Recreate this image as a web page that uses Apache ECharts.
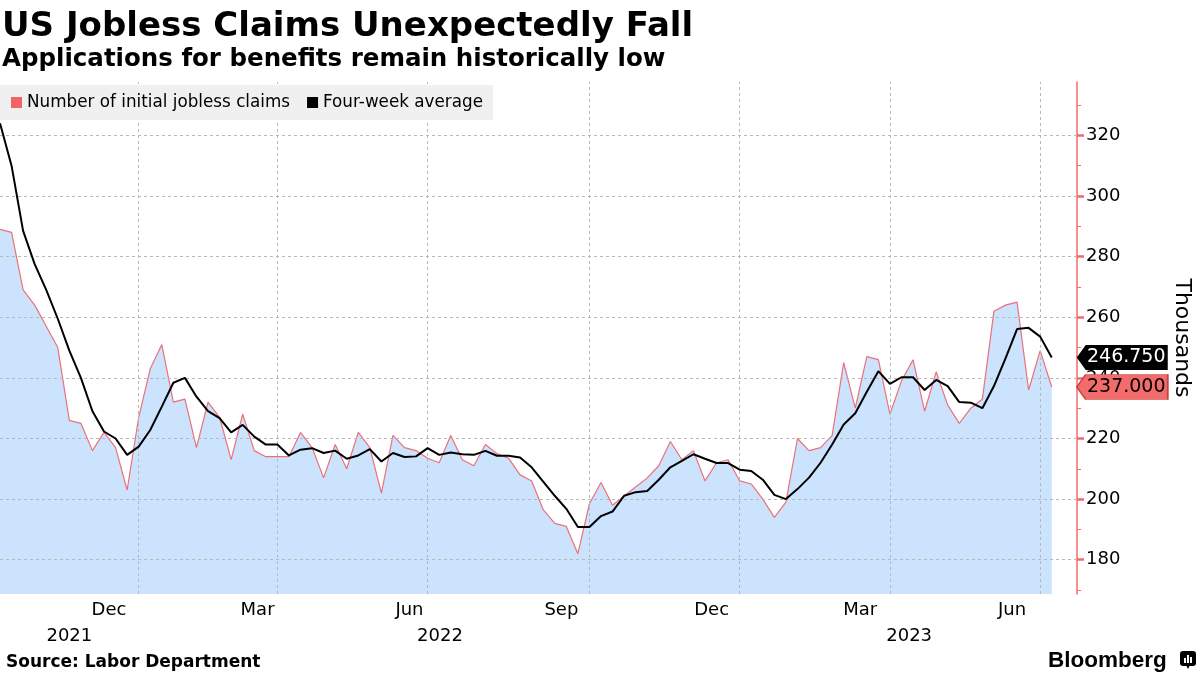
<!DOCTYPE html>
<html>
<head>
<meta charset="utf-8">
<script src="https://cdn.jsdelivr.net/npm/echarts@6/dist/echarts.min.js"></script>
<style>html,body{margin:0;padding:0;background:#fff}#c{width:1200px;height:675px}</style>
</head>
<body>
<div id="c"></div>
<script>
// ---- data (thousands), weekly, week ending Saturdays ----
const firstWeek = [2021, 10, 9]; // week ending Oct 9, 2021
const claims = [
  289, 288, 269, 264, 257, 250, 226, 225, 216, 222,
  217, 203, 227, 243, 251, 232, 233, 217, 232, 227,
  213, 228, 216, 214, 214, 214, 222, 217, 207, 218,
  210, 222, 217, 202, 221, 217, 216, 213.5, 212, 221,
  213, 211, 218, 215, 213.5, 208, 206, 196.5, 192, 191,
  182, 198.5, 205.5, 198, 201, 204, 207, 211, 219, 213,
  216, 206, 212, 213, 206, 205, 200, 194, 199, 220,
  216, 217, 221, 245, 230, 247, 246, 228, 239, 246,
  229, 242, 231, 225, 230, 233, 262, 264, 265, 236,
  249, 237
];
const fourWeekAvg = [
  324, 310, 288.5, 277.5, 269, 259.5, 249, 240, 229, 222.3,
  220, 214.6, 217.3, 222.8, 230.5, 238.4, 240, 233.8, 229, 226.7,
  222, 224.5, 220.6, 218, 218, 214.4, 216.3, 216.8, 215.2, 216,
  213.3, 214.4, 216.5, 212.4, 215.2, 213.9, 214.1, 216.8, 214.6, 215.4,
  214.8, 214.6, 215.9, 214.3, 214.3, 213.7, 210.5, 205.8, 201.1, 196.8,
  190.8, 190.8, 194.4, 195.9, 201.1, 202.3, 202.7, 206.4, 210.5, 212.6,
  214.8, 213.3, 211.9, 211.9, 209.7, 209.3, 206.4, 201.4, 200, 203.3,
  207.1, 212, 218, 224.6, 228.3, 235.4, 242.2, 238, 240.2, 240.2,
  236, 239.3, 237.3, 232, 231.8, 230, 237.3, 246.4, 256.1, 256.5,
  253.6, 246.75
];
const seriesNames = ['Number of initial jobless claims', 'Four-week average'];
const monthTickDates = [[2021,12,14],[2022,3,14],[2022,6,14],[2022,9,14],[2022,12,14],[2023,3,14],[2023,6,14]];
const quarterStarts = [[2022,1,1],[2022,4,1],[2022,7,1],[2022,10,1],[2023,1,1],[2023,4,1],[2023,7,1]];
const yLabelValues = [180, 200, 220, 240, 260, 280, 300, 320];
const yMinorValues = [170, 190, 210, 230, 250, 270, 290, 310, 330];
const yRange = [168.7, 337.6];
const monthNames = ['Jan','Feb','Mar','Apr','May','Jun','Jul','Aug','Sep','Oct','Nov','Dec'];

// ---- derived ----
const DAY = 86400000;
const ts = a => Date.UTC(a[0], a[1] - 1, a[2]);
const t0 = ts(firstWeek);
const weeks = claims.map((_, i) => t0 + i * 7 * DAY);
const lastT = weeks[weeks.length - 1];
const xMin = t0;
const xMax = lastT + 15.3 * DAY;
const claimsData = claims.map((v, i) => [weeks[i], v]);
const avgData = fourWeekAvg.map((v, i) => [weeks[i], v]);
const monthTicks = monthTickDates.map(ts);
// vertical grid lines: last reported week on or before each quarter start
const vGrid = quarterStarts.map(q => {
  const qt = ts(q); let best = weeks[0];
  weeks.forEach(w => { if (w <= qt) best = w; });
  return best;
});
// year labels centred on the visible part of each year
const yearTicks = [];
for (let y = new Date(xMin).getUTCFullYear(); y <= new Date(xMax).getUTCFullYear(); y++) {
  const s = Math.max(xMin, Date.UTC(y, 0, 1));
  const e = Math.min(xMax, Date.UTC(y + 1, 0, 1));
  yearTicks.push((s + e) / 2);
}
const FONT = '"DejaVu Sans", sans-serif';
const gridLineStyle = { color: '#b8b8b8', type: [3, 3], width: 1 };

function endBadge(value, bg, fg, border) {
  return {
    silent: true,
    animation: false,
    symbol: 'path://M0,12.5 L9,0 L91,0 L91,25 L9,25 Z',
    symbolSize: [91, 25],
    symbolKeepAspect: false,
    symbolOffset: [70.5, 0],
    itemStyle: { color: bg, borderColor: border, borderWidth: border ? 1 : 0 },
    label: {
      show: true, position: 'inside', offset: [4, 0],
      color: fg, fontSize: 19, fontFamily: FONT,
      formatter: p => Number(p.value).toFixed(3)
    },
    data: [{ coord: [lastT, value], value: value }]
  };
}

const chart = echarts.init(document.getElementById('c'));
chart.setOption({
  animation: false,
  backgroundColor: '#fff',
  grid: { left: 0, right: 123, top: 82, bottom: 81, containLabel: false },
  legend: {
    data: seriesNames,
    left: 0, top: 85,
    padding: [9, 10, 9, 11],
    itemGap: 17, itemWidth: 11, itemHeight: 11, icon: 'rect',
    backgroundColor: '#f0f0f0',
    selectedMode: false,
    textStyle: { fontSize: 16.8, fontFamily: FONT, color: '#000' }
  },
  xAxis: [{
    type: 'value', min: xMin, max: xMax, scale: true,
    axisLine: { show: false }, axisTick: { show: false }, splitLine: { show: false },
    axisLabel: {
      customValues: monthTicks, margin: 7,
      fontSize: 18, fontFamily: FONT, color: '#000',
      formatter: v => monthNames[new Date(v).getUTCMonth()]
    }
  }, {
    type: 'value', min: xMin, max: xMax, scale: true, position: 'bottom',
    axisLine: { show: false }, axisTick: { show: false }, splitLine: { show: false },
    axisLabel: {
      customValues: yearTicks, margin: 33,
      fontSize: 18, fontFamily: FONT, color: '#000',
      formatter: v => String(new Date(v).getUTCFullYear())
    }
  }],
  yAxis: [{
    type: 'value', position: 'right', min: yRange[0], max: yRange[1],
    axisLine: { show: true, lineStyle: { color: '#f26b6b', width: 1.5 } },
    axisTick: { show: true, customValues: yLabelValues, length: 7, lineStyle: { color: '#f26b6b', width: 2.5 } },
    axisLabel: { customValues: yLabelValues, margin: 9, fontSize: 18, fontFamily: FONT, color: '#000' },
    splitLine: { show: false }
  }, {
    type: 'value', position: 'right', min: yRange[0], max: yRange[1],
    axisLine: { show: false },
    axisTick: { show: true, customValues: yMinorValues, length: 4, lineStyle: { color: '#f26b6b', width: 1 } },
    axisLabel: { show: false },
    splitLine: { show: false }
  }],
  series: [{
    name: seriesNames[0], type: 'line', data: claimsData,
    xAxisIndex: 0, yAxisIndex: 0,
    showSymbol: false, symbol: 'none', z: 1,
    itemStyle: { color: '#f46363' },
    lineStyle: { color: '#ec707a', width: 1.2 },
    areaStyle: { color: '#cbe3fc', opacity: 1 },
    markLine: {
      silent: true, animation: false, symbol: 'none', z: 2,
      label: { show: false },
      lineStyle: gridLineStyle,
      data: vGrid.map(t => ({ xAxis: t })).concat(yLabelValues.map(v => ({ yAxis: v })))
    },
    markPoint: endBadge(claims[claims.length - 1], '#f46b6b', '#000', '#c04848')
  }, {
    name: seriesNames[1], type: 'line', data: avgData,
    xAxisIndex: 0, yAxisIndex: 0,
    showSymbol: false, symbol: 'none', z: 3,
    itemStyle: { color: '#000' },
    lineStyle: { color: '#000', width: 2 },
    markPoint: endBadge(fourWeekAvg[fourWeekAvg.length - 1], '#000', '#fff', null)
  }],
  graphic: [
    { type: 'text', left: 2, top: 10, style: { text: 'US Jobless Claims Unexpectedly Fall', font: 'bold 34px "DejaVu Sans"', fill: '#000' } },
    { type: 'text', left: 2, top: 47, style: { text: 'Applications for benefits remain historically low', font: 'bold 24.5px "DejaVu Sans"', fill: '#000' } },
    { type: 'text', left: 6, top: 654, style: { text: 'Source: Labor Department', font: 'bold 17px "DejaVu Sans"', fill: '#000' } },
    { type: 'text', x: 1182, y: 338, rotation: -Math.PI / 2, style: { text: 'Thousands', font: '22px "DejaVu Sans"', fill: '#000', align: 'center', verticalAlign: 'middle' } },
    { type: 'text', left: 1048, top: 649, style: { text: 'Bloomberg', font: 'bold 22.5px "Liberation Sans"', fill: '#000' } },
    { type: 'group', left: 1180, top: 651, children: [
      { type: 'rect', shape: { x: 0, y: 0, width: 16, height: 15, r: 3 }, style: { fill: '#000' } },
      { type: 'polygon', shape: { points: [[6, 14], [10, 14], [8, 18]] }, style: { fill: '#000' } },
      { type: 'rect', shape: { x: 4, y: 7, width: 2, height: 5 }, style: { fill: '#fff' } },
      { type: 'rect', shape: { x: 7, y: 4, width: 2, height: 8 }, style: { fill: '#fff' } },
      { type: 'rect', shape: { x: 10, y: 6, width: 2, height: 6 }, style: { fill: '#fff' } }
    ] }
  ]
});
</script>
</body>
</html>
